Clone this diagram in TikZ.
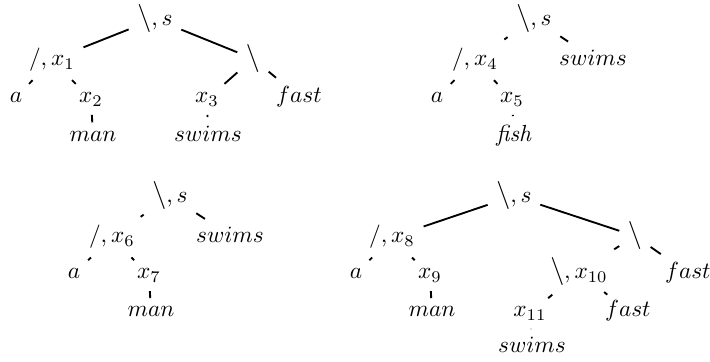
\documentclass[tikz,border=0pt]{standalone}
\usepackage{amsmath,amssymb}
\usepackage{tikz}
\usetikzlibrary{positioning}
\newcommand{\lbs}{\mbox{\large$\backslash$}}

\begin{document}
\begin{tikzpicture}[thick,
    tn/.style={anchor=base, inner sep=0.3333em}]
  \useasboundingbox (0,0) rectangle (10.71,5.46);
  % Tree 1
  \node[tn] (r1) at (2.338,5.068) {$\lbs, s$};
  \node[tn] (x1) at (0.784,4.470) {$/, x_1$};
  \node[tn] (b1) at (3.816,4.470) {$\lbs$};
  \node[tn] (a1) at (0.241,3.912) {$a$};
  \node[tn] (x2) at (1.373,3.912) {$x_2$};
  \node[tn] (x3) at (3.122,3.912) {$x_3$};
  \node[tn] (f1) at (4.510,3.912) {$fast$};
  \node[tn] (m1) at (1.403,3.330) {$man$};
  \node[tn] (s1) at (3.137,3.330) {$swims$};
  \draw (r1) -- (x1);
  \draw (r1) -- (b1);
  \draw (x1) -- (a1);
  \draw (x1) -- (x2);
  \draw (b1) -- (x3);
  \draw (b1) -- (f1);
  \draw (x2) -- (m1);
  \draw (x3) -- (s1);
  % Tree 2
  \node[tn] (r2) at (8.054,5.068) {$\lbs, s$};
  \node[tn] (x4) at (7.164,4.470) {$/, x_4$};
  \node[tn] (s2) at (8.944,4.470) {$swims$};
  \node[tn] (a2) at (6.591,3.912) {$a$};
  \node[tn] (x5) at (7.722,3.912) {$x_5$};
  \node[tn] (h2) at (7.753,3.330) {\textit{fish}};
  \draw (r2) -- (x4);
  \draw (r2) -- (s2);
  \draw (x4) -- (a2);
  \draw (x4) -- (x5);
  \draw (x5) -- (h2);
  % Tree 3
  \node[tn] (r3) at (2.564,2.398) {$\lbs, s$};
  \node[tn] (x6) at (1.689,1.795) {$/, x_6$};
  \node[tn] (s3) at (3.469,1.795) {$swims$};
  \node[tn] (a3) at (1.116,1.252) {$a$};
  \node[tn] (x7) at (2.247,1.252) {$x_7$};
  \node[tn] (m3) at (2.278,0.679) {$man$};
  \draw (r3) -- (x6);
  \draw (r3) -- (s3);
  \draw (x6) -- (a3);
  \draw (x6) -- (x7);
  \draw (x7) -- (m3);
  % Tree 4
  \node[tn] (r4) at (7.753,2.398) {$\lbs, s$};
  \node[tn] (x8) at (5.913,1.795) {$/, x_8$};
  \node[tn] (b4) at (9.578,1.795) {$\lbs$};
  \node[tn] (a4) at (5.370,1.252) {$a$};
  \node[tn] (x9) at (6.486,1.252) {$x_9$};
  \node[tn] (x10) at (8.733,1.252) {$\lbs, x_{10}$};
  \node[tn] (f4) at (10.377,1.252) {$fast$};
  \node[tn] (m4) at (6.516,0.679) {$man$};
  \node[tn] (x11) at (7.994,0.679) {$x_{11}$};
  \node[tn] (f5) at (9.472,0.679) {$fast$};
  \node[tn] (s4) at (8.024,0.136) {$swims$};
  \draw (r4) -- (x8);
  \draw (r4) -- (b4);
  \draw (x8) -- (a4);
  \draw (x8) -- (x9);
  \draw (b4) -- (x10);
  \draw (b4) -- (f4);
  \draw (x9) -- (m4);
  \draw (x10) -- (x11);
  \draw (x10) -- (f5);
  \draw (x11) -- (s4);
\end{tikzpicture}
\end{document}
